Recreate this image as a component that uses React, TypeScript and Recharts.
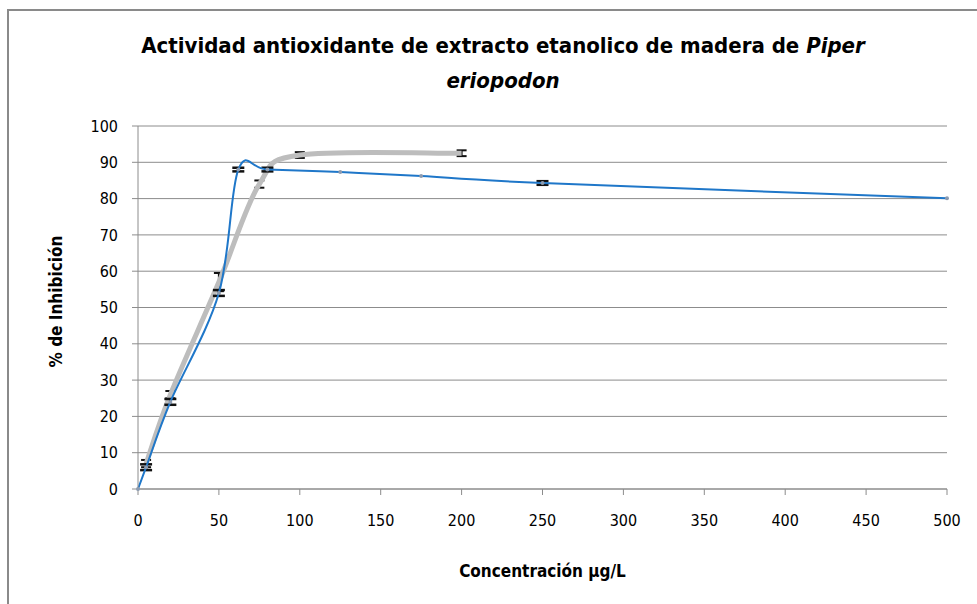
import React from "react";
import {
  CartesianGrid,
  ErrorBar,
  Line,
  LineChart,
  XAxis,
  YAxis,
} from "recharts";

// blue series (measured)
const blueX = [0, 5, 20, 50, 62, 80, 125, 175, 250, 500];
const blueY = [0, 6, 24, 54, 88, 88, 87.3, 86.2, 84.3, 80.1];
const blueErr = [undefined, 0.8, 0.8, 0.8, 0.5, 0.5, undefined, undefined, 0.5, undefined];

// gray series (thick smoothed)
const grayX = [5, 20, 50, 75, 100, 200];
const grayY = [7, 26, 57, 84, 92, 92.5];
const grayErr = [1, 1, 2.5, 1, 0.8, 0.8];

const xTicks = [0, 50, 100, 150, 200, 250, 300, 350, 400, 450, 500];
const yTicks = [0, 10, 20, 30, 40, 50, 60, 70, 80, 90, 100];

const blueData = blueX.map((x, i) => ({ x, y: blueY[i], err: blueErr[i] }));
const grayData = grayX.map((x, i) => ({ x, y: grayY[i], err: grayErr[i] }));

const FONT = "'Liberation Sans Narrow', 'DejaVu Sans Condensed', 'Open Sans', sans-serif";

// Excel-like smoothing (Catmull-Rom through the points)
const smoothCurve = (context: any) => {
  let pts: number[][] = [];
  return {
    areaStart() {},
    areaEnd() {},
    lineStart() {
      pts = [];
    },
    point(x: number, y: number) {
      pts.push([+x, +y]);
    },
    lineEnd() {
      if (!pts.length) return;
      context.moveTo(pts[0][0], pts[0][1]);
      for (let i = 0; i < pts.length - 1; i++) {
        const p0 = pts[i - 1] || pts[i];
        const p1 = pts[i];
        const p2 = pts[i + 1];
        const p3 = pts[i + 2] || p2;
        context.bezierCurveTo(
          p1[0] + (p2[0] - p0[0]) / 6,
          p1[1] + (p2[1] - p0[1]) / 6,
          p2[0] - (p3[0] - p1[0]) / 6,
          p2[1] - (p3[1] - p1[1]) / 6,
          p2[0],
          p2[1]
        );
      }
    },
  };
};

export default function App() {
  return (
    <div
      style={{
        position: "absolute",
        left: 0,
        top: 0,
        width: 977,
        height: 604,
        background: "#fff",
        fontFamily: FONT,
      }}
    >
      <div
        style={{
          position: "absolute",
          left: 7,
          top: 9,
          width: 980,
          height: 610,
          borderLeft: "2px solid #8a8a8a",
          borderTop: "2px solid #8a8a8a",
        }}
      />
      <div
        style={{
          position: "absolute",
          left: 0,
          top: 28,
          width: 1006,
          textAlign: "center",
          fontSize: 22,
          fontWeight: "bold",
          lineHeight: "35px",
          color: "#000",
        }}
      >
        Actividad antioxidante de extracto etanolico de madera de <i>Piper</i>
        <br />
        <i>eriopodon</i>
      </div>
      <div style={{ position: "absolute", left: 0, top: 0 }}>
        <LineChart
          width={977}
          height={604}
          margin={{ top: 126, right: 30, left: 78, bottom: 85 }}
        >
          <CartesianGrid vertical={false} stroke="#8c8c8c" strokeWidth={1} />
          <XAxis
            dataKey="x"
            type="number"
            domain={[0, 500]}
            ticks={xTicks}
            allowDuplicatedCategory={false}
            stroke="#8c8c8c"
            tickSize={6}
            tick={{ fill: "#000", fontSize: 16, fontFamily: FONT, dy: 18 }}
            height={30}
            label={{
              value: "Concentración µg/L",
              position: "insideBottom",
              dy: 63,
              fill: "#000",
              fontSize: 17,
              fontWeight: "bold",
              fontFamily: FONT,
            }}
          />
          <YAxis
            type="number"
            domain={[0, 100]}
            ticks={yTicks}
            stroke="#8c8c8c"
            tickSize={6}
            width={60}
            tick={{ fill: "#000", fontSize: 16, fontFamily: FONT, dx: -12 }}
            label={{
              value: "% de Inhibición",
              angle: -90,
              position: "insideLeft",
              dx: -27,
              dy: 60,
              fill: "#000",
              fontSize: 17,
              fontWeight: "bold",
              fontFamily: FONT,
            }}
          />
          <Line
            data={grayData}
            dataKey="y"
            type={smoothCurve as any}
            stroke="#bdbdbd"
            strokeWidth={5}
            dot={false}
            activeDot={false}
            isAnimationActive={false}
          >
            <ErrorBar dataKey="err" direction="y" width={5} stroke="#111" strokeWidth={2} />
          </Line>
          <Line
            data={blueData}
            dataKey="y"
            type={smoothCurve as any}
            stroke="#1f77c9"
            strokeWidth={2}
            dot={{ r: 2, fill: "#8c9bb0", stroke: "none" }}
            activeDot={false}
            isAnimationActive={false}
          >
            <ErrorBar dataKey="err" direction="y" width={6} stroke="#111" strokeWidth={2.5} />
          </Line>
        </LineChart>
      </div>
    </div>
  );
}
